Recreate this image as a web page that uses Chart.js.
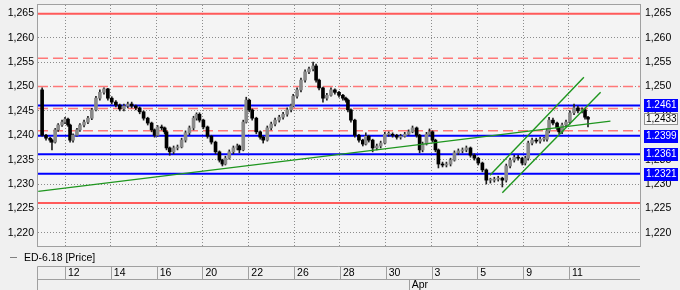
<!DOCTYPE html>
<html><head><meta charset="utf-8">
<script src="https://cdn.jsdelivr.net/npm/chart.js@4.4.1/dist/chart.umd.min.js"></script>
<style>html,body{margin:0;padding:0;background:#f0f0f0;}#wrap{width:680px;height:290px;}</style>
</head><body><div id="wrap"><canvas id="c" width="680" height="290"></canvas></div>
<script>
// trading-day index: 0 = Mar 12
const barTime = [-1.00,-0.83,-0.65,-0.57,-0.43,-0.30,-0.13,0.00,0.13,0.22,
0.35,0.52,0.65,0.83,1.00,1.17,1.35,1.52,1.70,1.87,
2.04,2.22,2.39,2.57,2.74,2.91,3.09,3.26,3.43,3.61,
3.78,3.91,4.04,4.22,4.35,4.43,4.57,4.74,4.91,5.09,
5.26,5.43,5.61,5.74,5.87,6.04,6.22,6.39,6.57,6.74,
6.87,7.00,7.17,7.35,7.52,7.61,7.78,7.91,8.04,8.17,
8.35,8.52,8.65,8.83,9.00,9.17,9.35,9.52,9.70,9.87,
9.96,10.13,10.30,10.48,10.65,10.83,10.96,11.09,11.26,11.43,
11.61,11.78,11.96,12.13,12.26,12.35,12.48,12.65,12.83,13.00,
13.13,13.26,13.43,13.61,13.78,13.96,14.13,14.30,14.48,14.65,
14.83,15.00,15.17,15.35,15.48,15.61,15.78,15.91,16.04,16.17,
16.30,16.48,16.65,16.83,17.00,17.17,17.35,17.52,17.70,17.87,
18.04,18.22,18.39,18.57,18.74,18.91,19.09,19.26,19.43,19.61,
19.78,19.96,20.09,20.22,20.39,20.57,20.74,20.91,21.04,21.13,
21.30,21.48,21.57,21.70,21.87,22.04,22.22,22.39,22.57,22.70,
22.83];
const barOpen = [1.2493,1.2400,1.2394,1.2390,1.2386,1.2411,1.2421,1.2427,1.2433,1.2421,
1.2390,1.2400,1.2411,1.2421,1.2427,1.2435,1.2452,1.2476,1.2488,1.2495,
1.2476,1.2468,1.2462,1.2454,1.2460,1.2464,1.2460,1.2456,1.2448,1.2435,
1.2425,1.2411,1.2400,1.2417,1.2415,1.2407,1.2374,1.2366,1.2374,1.2376,
1.2390,1.2405,1.2415,1.2435,1.2443,1.2431,1.2417,1.2398,1.2386,1.2366,
1.2349,1.2341,1.2353,1.2366,1.2374,1.2378,1.2370,1.2427,1.2472,1.2452,
1.2435,1.2407,1.2396,1.2390,1.2415,1.2423,1.2431,1.2437,1.2443,1.2452,
1.2460,1.2480,1.2493,1.2513,1.2530,1.2536,1.2542,1.2513,1.2497,1.2476,
1.2482,1.2493,1.2488,1.2482,1.2476,1.2472,1.2452,1.2431,1.2400,1.2390,
1.2382,1.2398,1.2390,1.2374,1.2378,1.2384,1.2402,1.2402,1.2400,1.2396,
1.2398,1.2402,1.2407,1.2415,1.2400,1.2370,1.2382,1.2402,1.2407,1.2390,
1.2370,1.2341,1.2339,1.2341,1.2349,1.2364,1.2368,1.2370,1.2374,1.2359,
1.2353,1.2343,1.2329,1.2308,1.2308,1.2310,1.2312,1.2308,1.2337,1.2349,
1.2355,1.2353,1.2343,1.2353,1.2384,1.2390,1.2388,1.2392,1.2392,1.2409,
1.2431,1.2425,1.2415,1.2407,1.2421,1.2427,1.2446,1.2456,1.2450,1.2452,
1.2437];
const barHigh = [1.2497,1.2402,1.2396,1.2392,1.2414,1.2424,1.2431,1.2437,1.2435,1.2423,
1.2403,1.2414,1.2424,1.2431,1.2439,1.2455,1.2480,1.2493,1.2497,1.2496,
1.2479,1.2471,1.2464,1.2464,1.2468,1.2468,1.2462,1.2458,1.2450,1.2437,
1.2427,1.2413,1.2420,1.2421,1.2417,1.2409,1.2376,1.2378,1.2380,1.2394,
1.2409,1.2419,1.2439,1.2446,1.2446,1.2433,1.2419,1.2400,1.2388,1.2368,
1.2351,1.2357,1.2370,1.2378,1.2382,1.2380,1.2431,1.2478,1.2474,1.2454,
1.2437,1.2409,1.2398,1.2419,1.2427,1.2435,1.2441,1.2447,1.2456,1.2464,
1.2484,1.2497,1.2517,1.2534,1.2540,1.2550,1.2546,1.2515,1.2499,1.2486,
1.2497,1.2495,1.2490,1.2484,1.2478,1.2474,1.2454,1.2433,1.2402,1.2392,
1.2405,1.2400,1.2392,1.2382,1.2388,1.2406,1.2407,1.2405,1.2402,1.2402,
1.2406,1.2411,1.2419,1.2417,1.2402,1.2386,1.2406,1.2413,1.2409,1.2392,
1.2372,1.2345,1.2345,1.2353,1.2368,1.2372,1.2374,1.2378,1.2376,1.2362,
1.2355,1.2345,1.2331,1.2312,1.2314,1.2316,1.2314,1.2341,1.2353,1.2359,
1.2359,1.2355,1.2357,1.2388,1.2394,1.2394,1.2396,1.2396,1.2413,1.2437,
1.2435,1.2427,1.2417,1.2425,1.2431,1.2450,1.2464,1.2460,1.2456,1.2454,
1.2439];
const barLow = [1.2398,1.2390,1.2386,1.2370,1.2384,1.2408,1.2418,1.2424,1.2418,1.2386,
1.2386,1.2398,1.2408,1.2417,1.2424,1.2432,1.2450,1.2472,1.2484,1.2472,
1.2464,1.2458,1.2450,1.2450,1.2456,1.2456,1.2452,1.2444,1.2431,1.2421,
1.2407,1.2396,1.2398,1.2411,1.2403,1.2370,1.2359,1.2362,1.2370,1.2374,
1.2386,1.2401,1.2411,1.2431,1.2427,1.2413,1.2394,1.2382,1.2362,1.2345,
1.2337,1.2339,1.2351,1.2362,1.2370,1.2364,1.2368,1.2425,1.2448,1.2431,
1.2403,1.2392,1.2384,1.2388,1.2411,1.2419,1.2427,1.2433,1.2439,1.2448,
1.2458,1.2476,1.2489,1.2509,1.2526,1.2532,1.2509,1.2493,1.2468,1.2472,
1.2480,1.2484,1.2478,1.2472,1.2468,1.2448,1.2427,1.2396,1.2386,1.2378,
1.2380,1.2386,1.2366,1.2370,1.2374,1.2382,1.2398,1.2396,1.2392,1.2392,
1.2396,1.2400,1.2405,1.2396,1.2364,1.2366,1.2380,1.2400,1.2386,1.2366,
1.2333,1.2335,1.2335,1.2337,1.2347,1.2360,1.2364,1.2366,1.2355,1.2349,
1.2339,1.2325,1.2300,1.2302,1.2304,1.2306,1.2294,1.2304,1.2333,1.2345,
1.2349,1.2339,1.2339,1.2349,1.2380,1.2384,1.2384,1.2388,1.2388,1.2405,
1.2421,1.2411,1.2403,1.2403,1.2417,1.2423,1.2442,1.2446,1.2446,1.2433,
1.2417];
const barClose = [1.2400,1.2394,1.2390,1.2386,1.2411,1.2421,1.2427,1.2433,1.2421,1.2390,
1.2400,1.2411,1.2421,1.2427,1.2435,1.2452,1.2476,1.2488,1.2495,1.2476,
1.2468,1.2462,1.2454,1.2460,1.2464,1.2460,1.2456,1.2448,1.2435,1.2425,
1.2411,1.2400,1.2417,1.2415,1.2407,1.2374,1.2366,1.2374,1.2376,1.2390,
1.2405,1.2415,1.2435,1.2443,1.2431,1.2417,1.2398,1.2386,1.2366,1.2349,
1.2341,1.2353,1.2366,1.2374,1.2378,1.2370,1.2427,1.2472,1.2452,1.2435,
1.2407,1.2396,1.2390,1.2415,1.2423,1.2431,1.2437,1.2443,1.2452,1.2460,
1.2480,1.2493,1.2513,1.2530,1.2536,1.2542,1.2513,1.2497,1.2476,1.2482,
1.2493,1.2488,1.2482,1.2476,1.2472,1.2452,1.2431,1.2400,1.2390,1.2382,
1.2398,1.2390,1.2374,1.2378,1.2384,1.2402,1.2402,1.2400,1.2396,1.2398,
1.2402,1.2407,1.2415,1.2400,1.2370,1.2382,1.2402,1.2407,1.2390,1.2370,
1.2341,1.2339,1.2341,1.2349,1.2364,1.2368,1.2370,1.2374,1.2359,1.2353,
1.2343,1.2329,1.2308,1.2308,1.2310,1.2312,1.2308,1.2337,1.2349,1.2355,
1.2353,1.2343,1.2353,1.2384,1.2390,1.2388,1.2392,1.2392,1.2409,1.2431,
1.2425,1.2415,1.2407,1.2421,1.2427,1.2446,1.2456,1.2450,1.2452,1.2437,
1.2433];

const tickDays = [0,2,4,6,8,10,12,14,16,18,20,22];
const tickLabels = ['12','14','16','20','22','26','28','30','3','5','9','11'];
const monthDays = [15];
const monthLabels = ['Apr'];
const yTicks = [1.220,1.225,1.230,1.235,1.240,1.245,1.250,1.255,1.260,1.265];

const redSolidLevels = [1.2649, 1.2261];
const redDashedLevels = [1.2558, 1.2500, 1.2455, 1.2409];
const blueLevels = [1.2461, 1.2399, 1.2361, 1.2321];
const blueLabels = ['1.2461','1.2399','1.2361','1.2321'];
const lastPrice = 1.2433;
const lastPriceLabel = '1,2433';

const longTrendX = [-1.17, 23.81], longTrendY = [1.2285, 1.2429];
const channelUpX = [18.55, 22.65], channelUpY = [1.2318, 1.2519];
const channelLowX = [19.09, 23.38], channelLowY = [1.2282, 1.2488];

const seriesName = 'ED-6.18 [Price]';

const X_MIN = -1.18, X_MAX = 25.1, Y_MIN = 1.2173, Y_MAX = 1.2667;
const FONT = '"Liberation Sans", Arial, sans-serif';
const fmtComma = v => v.toFixed(3).replace('.', ',');

function hLine(v, color, width, dash, order) {
  return { type:'line', data:[{x:X_MIN,y:v},{x:X_MAX,y:v}], borderColor:color, borderWidth:width,
    borderDash:dash||[], pointRadius:0, order:order, fill:false };
}
function seg(xs, ys, color, width, order) {
  return { type:'line', data:[{x:xs[0],y:ys[0]},{x:xs[1],y:ys[1]}], borderColor:color, borderWidth:width,
    pointRadius:0, order:order, fill:false };
}

const datasets = [];
redSolidLevels.forEach(v => datasets.push(hLine(v, '#ff5a5a', 2, [], 20)));
redDashedLevels.forEach(v => datasets.push(hLine(v, '#ff7878', 1.5, [10,5], 20)));
blueLevels.forEach(v => datasets.push(hLine(v, '#0000ff', 2, [], 19)));
datasets.push({ type:'bar', label:seriesName, grouped:false, order:10, barThickness:1,
  backgroundColor:'#202020',
  data: barTime.map((t,i)=>({x:t, y:[barLow[i], barHigh[i]]})) });
datasets.push({ type:'bar', grouped:false, order:9, barThickness:3, minBarLength:1,
  backgroundColor: barTime.map((t,i)=> barClose[i] >= barOpen[i] ? '#8a8a8a' : '#000000'),
  data: barTime.map((t,i)=>({x:t, y:[barOpen[i], barClose[i]]})) });
datasets.push(seg(longTrendX, longTrendY, '#1f961f', 1.4, 1));
datasets.push(seg(channelUpX, channelUpY, '#1f961f', 1.4, 1));
datasets.push(seg(channelLowX, channelLowY, '#1f961f', 1.4, 1));

const framePlugin = {
  id:'frame',
  beforeDraw(chart) {
    const c = chart.ctx, a = chart.chartArea;
    c.save();
    c.fillStyle = '#f0f0f0'; c.fillRect(0,0,chart.width,chart.height);
    c.fillStyle = '#f4f4f4'; c.fillRect(a.left,a.top,a.right-a.left,a.bottom-a.top);
    c.restore();
  },
  afterDraw(chart) {
    const c = chart.ctx, a = chart.chartArea;
    const xs = chart.scales.x, ys = chart.scales.y;
    c.save();
    c.strokeStyle = '#a0a0a0'; c.lineWidth = 1;
    c.strokeRect(a.left-0.5, a.top-0.5, a.right-a.left+1, a.bottom-a.top+1);
    // legend
    c.strokeStyle = '#808080';
    c.beginPath(); c.moveTo(10, 257.5); c.lineTo(17, 257.5); c.stroke();
    c.fillStyle = '#000'; c.font = '10.5px ' + FONT; c.textBaseline = 'middle'; c.textAlign = 'left';
    c.fillText(seriesName, 24, 258);
    // x axis boxes
    const r1 = 266.5, r2 = 279.5, bottom = 290;
    c.strokeStyle = '#a0a0a0';
    c.beginPath();
    c.moveTo(a.left-0.5, r1); c.lineTo(a.right, r1);
    c.moveTo(a.left-0.5, r2); c.lineTo(a.right, r2);
    c.moveTo(a.left-0.5, r1); c.lineTo(a.left-0.5, bottom);
    tickDays.forEach(d => { const px = Math.round(xs.getPixelForValue(d)) + 0.5; c.moveTo(px, r1); c.lineTo(px, r2); });
    monthDays.forEach(d => { const px = Math.round(xs.getPixelForValue(d)) + 0.5; c.moveTo(px, r2); c.lineTo(px, bottom); });
    c.stroke();
    c.fillStyle = '#000';
    tickDays.forEach((d,i) => c.fillText(tickLabels[i], xs.getPixelForValue(d) + 3, 273.5));
    monthDays.forEach((d,i) => c.fillText(monthLabels[i], xs.getPixelForValue(d) + 3, 285.5));
    // right side level boxes
    c.font = '10px ' + FONT;
    blueLevels.forEach((v,i) => {
      const py = Math.round(ys.getPixelForValue(v));
      c.fillStyle = '#0000ff'; c.fillRect(644, py-6, 34, 13);
      c.fillStyle = '#ffffff'; c.fillText(blueLabels[i], 646, py+0.5);
    });
    const lp = Math.round(ys.getPixelForValue(lastPrice));
    c.fillStyle = '#f8f8f8'; c.fillRect(644, lp-6, 34, 12);
    c.strokeStyle = '#909090'; c.strokeRect(644.5, lp-5.5, 33, 11);
    c.fillStyle = '#000'; c.fillText(lastPriceLabel, 646, lp+0.5);
    c.restore();
  }
};

new Chart(document.getElementById('c'), {
  type:'bar',
  data:{ datasets },
  options:{
    responsive:false, animation:false, devicePixelRatio:1,
    layout:{ padding:{ left:0, right:0, top:5, bottom:0 } },
    plugins:{ legend:{display:false}, tooltip:{enabled:false} },
    scales:{
      x:{ type:'linear', min:X_MIN, max:X_MAX, offset:false,
        grid:{ offset:false, color:'#8c8c8c', lineWidth:1, drawTicks:false },
        border:{ display:false, dash:[1,2] },
        ticks:{ display:false },
        afterBuildTicks: s => { s.ticks = tickDays.map(v => ({value:v})); },
        afterFit: s => { s.height = 44; s.paddingLeft = 0; s.paddingRight = 0; } },
      y:{ type:'linear', position:'left', min:Y_MIN, max:Y_MAX, beginAtZero:false,
        grid:{ color:'#8c8c8c', lineWidth:1, drawTicks:false },
        border:{ display:false, dash:[1,2] },
        ticks:{ padding:4, color:'#000', font:{ size:10.5, family:FONT }, callback: v => fmtComma(v) },
        afterBuildTicks: s => { s.ticks = yTicks.map(v => ({value:v})); },
        afterFit: s => { s.width = 38; s.paddingTop = 0; s.paddingBottom = 0; } },
      y2:{ type:'linear', position:'right', min:Y_MIN, max:Y_MAX, beginAtZero:false,
        grid:{ display:false, drawTicks:false },
        border:{ display:false },
        ticks:{ padding:5, color:'#000', font:{ size:10.5, family:FONT }, callback: v => fmtComma(v) },
        afterBuildTicks: s => { s.ticks = yTicks.map(v => ({value:v})); },
        afterFit: s => { s.width = 40; s.paddingTop = 0; s.paddingBottom = 0; } }
    }
  },
  plugins:[framePlugin]
});
</script></body></html>
